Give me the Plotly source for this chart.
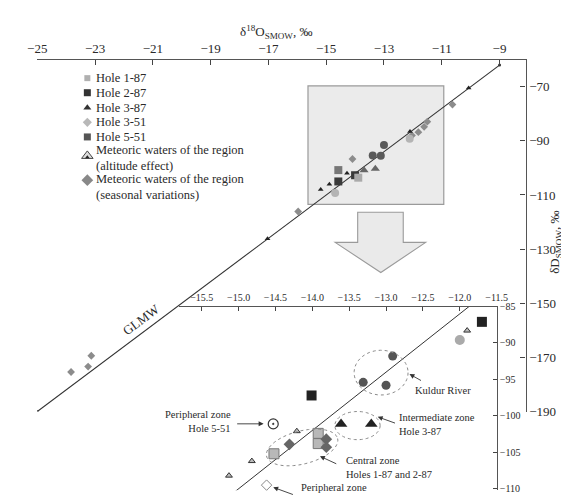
import numpy as np
import plotly.graph_objects as go

W, H = 569, 498
FONT = "Liberation Serif, Times New Roman, serif"
TXT = "#2a2a2a"

# ---------------- main chart data (δ18O, δD) ----------------
glmw_x = [-25.0, -9.0]
glmw_y = [-190.0, -62.0]

seasonal_x = [-23.83, -23.24, -23.13, -15.97, -14.09, -12.03, -11.81, -11.61, -11.50, -10.63]
seasonal_y = [-175.4, -173.4, -169.4, -116.1, -96.7, -88.0, -86.8, -84.8, -82.9, -76.6]

altitude_x = [-14.28, -15.19, -14.89, -12.10, -10.07, -17.03]
altitude_y = [-102.0, -108.0, -106.0, -86.5, -70.5, -126.2]

river_dark_x = [-13.00, -13.39, -13.11]
river_dark_y = [-91.5, -95.4, -95.5]
river_light_x = [-12.11, -14.69]
river_light_y = [-89.2, -109.3]

hole187_x = [-13.89]
hole187_y = [-103.6]
hole287_x = [-14.58, -14.00]
hole287_y = [-105.0, -102.7]
hole387_x = [-13.69, -13.30]
hole387_y = [-100.9, -100.3]
hole551_x = [-14.58]
hole551_y = [-100.8]

main_xticks = [-25, -23, -21, -19, -17, -15, -13, -11, -9]
main_yticks = [-70, -90, -110, -130, -150, -170, -190]

# zoom box shown in the main chart
box_x = [-15.63, -10.93]
box_y = [-113.5, -69.7]

# ---------------- inset data ----------------
in_glmw_x = [-15.15, -11.875]
in_glmw_y = [-111.2, -85.0]

in_river_light_x = [-12.00]
in_river_light_y = [-89.6]
in_river_dark_x = [-12.91, -13.00, -13.31]
in_river_dark_y = [-91.8, -95.8, -95.4]
in_hole287_x = [-11.70, -14.01]
in_hole287_y = [-87.1, -97.2]
in_hole551_x = [-14.53]
in_hole551_y = [-101.1]
in_alt_x = [-11.90, -14.21, -14.82, -15.13]
in_alt_y = [-88.3, -102.1, -106.2, -108.2]
in_hole387_x = [-13.61, -13.20]
in_hole387_y = [-101.1, -101.1]
in_hole187_x = [-13.92, -13.92, -14.52]
in_hole187_y = [-102.4, -103.8, -105.2]
in_seasonal_x = [-14.31, -13.81, -13.81]
in_seasonal_y = [-103.9, -103.2, -104.3]
in_hole351_x = [-14.62]
in_hole351_y = [-109.5]

inset_xticks = [-15.5, -15.0, -14.5, -14.0, -13.5, -13.0, -12.5, -12.0, -11.5]
inset_yticks = [-85, -90, -95, -100, -105, -110]

legend_labels = ["Hole 1-87", "Hole 2-87", "Hole 3-87", "Hole 3-51", "Hole 5-51",
                 "Meteoric waters of the region<br>(altitude effect)",
                 "Meteoric waters of the region<br>(seasonal variations)"]

# ---------------- layout geometry (pixels) ----------------
MX0, MX1, MY0, MY1 = 20, 527, 47, 409          # main plot area
MXR = [-25.0, -8.1]
MYR = [-190.0, -60.0]
IX0, IX1, IY0, IY1 = 167, 497, 301, 490         # inset plot area
IXR = [-15.81, -11.5]
IYR = [-110.2, -85.0]


def ipx2d(px, py):
    x = IXR[0] + (px - IX0) / (IX1 - IX0) * (IXR[1] - IXR[0])
    y = IYR[1] - (py - IY0) / (IY1 - IY0) * (IYR[1] - IYR[0])
    return x, y


def mpx2d(px, py):
    x = MXR[0] + (px - MX0) / (MX1 - MX0) * (MXR[1] - MXR[0])
    y = MYR[1] - (py - MY0) / (MY1 - MY0) * (MYR[1] - MYR[0])
    return x, y


fig = go.Figure()


def sc(x, y, symbol, size, color, line_color=None, line_w=0, xa="x", ya="y"):
    fig.add_trace(go.Scatter(
        x=x, y=y, mode="markers", xaxis=xa, yaxis=ya, showlegend=False,
        hoverinfo="skip", cliponaxis=False,
        marker=dict(symbol=symbol, size=size, color=color,
                    line=dict(color=line_color or color, width=line_w))))


# main chart
fig.add_trace(go.Scatter(x=glmw_x, y=glmw_y, mode="lines+markers", showlegend=False,
                         line=dict(color="#333333", width=1.1),
                         marker=dict(size=3, color="#333333"), hoverinfo="skip"))
sc(seasonal_x, seasonal_y, "diamond", 6, "#8c8c8c")
sc(river_light_x, river_light_y, "circle", 8, "#b4b4b4")
sc(river_dark_x, river_dark_y, "circle", 8, "#5a5a5a")
sc(hole551_x, hole551_y, "square", 8, "#777777")
sc(hole287_x, hole287_y, "square", 8, "#3a3a3a")
sc(hole187_x, hole187_y, "square", 8, "#aaaaaa")
sc(hole387_x, hole387_y, "triangle-up", 8, "#666666")
sc(altitude_x, altitude_y, "triangle-up", 5, "#222222")

# inset
fig.add_trace(go.Scatter(x=in_glmw_x, y=in_glmw_y, mode="lines", showlegend=False,
                         xaxis="x2", yaxis="y2", line=dict(color="#333333", width=1.0),
                         hoverinfo="skip"))
sc(in_river_light_x, in_river_light_y, "circle", 10, "#aaaaaa", xa="x2", ya="y2")
sc(in_river_dark_x, in_river_dark_y, "circle", 9, "#555555", xa="x2", ya="y2")
sc(in_hole287_x, in_hole287_y, "square", 10, "#222222", xa="x2", ya="y2")
sc(in_hole551_x, in_hole551_y, "circle-dot", 10, "#ffffff", "#333333", 1.2, xa="x2", ya="y2")
sc(in_alt_x, in_alt_y, "triangle-up", 6, "#bbbbbb", "#333333", 1, xa="x2", ya="y2")
sc(in_hole387_x, in_hole387_y, "triangle-up", 11, "#222222", xa="x2", ya="y2")
sc(in_hole187_x, in_hole187_y, "square", 10, "#b8b8b8", "#777777", 1, xa="x2", ya="y2")
sc(in_seasonal_x, in_seasonal_y, "diamond", 9, "#666666", xa="x2", ya="y2")
sc(in_hole351_x, in_hole351_y, "diamond", 8, "#ffffff", "#888888", 1, xa="x2", ya="y2")

# legend keys on a hidden pixel axis
leg_sym = ["square", "square", "triangle-up", "diamond", "square", "triangle-up", "diamond"]
leg_col = ["#b0b0b0", "#333333", "#333333", "#b8b8b8", "#555555", "#dddddd", "#888888"]
leg_size = [6, 7, 7, 7, 7, 10, 9]
leg_px = 72
leg_py = [66, 81, 96.5, 111.5, 126.5, 146, 171]
for s, c, z, py in zip(leg_sym, leg_col, leg_size, leg_py):
    sc([leg_px], [py], s, z, c, "#444444" if s == "triangle-up" and z == 10 else None,
       1 if z == 10 and s == "triangle-up" else 0, xa="x3", ya="y3")
sc([leg_px], [147.5], "triangle-up", 4, "#222222", xa="x3", ya="y3")

annotations = []
leg_text_py = [66, 81, 96.5, 111.5, 126.5, 148, 178]
for lab, py in zip(legend_labels, leg_text_py):
    annotations.append(dict(x=79, y=py, xref="x3", yref="y3", text=lab, showarrow=False,
                            xanchor="left", yanchor="middle", align="left",
                            font=dict(family=FONT, size=12.5, color=TXT)))

# axis titles
annotations.append(dict(x=268, y=19, xref="x3", yref="y3",
                        text="δ<sup>18</sup>O<sub>SMOW</sub>, ‰", showarrow=False,
                        font=dict(family=FONT, size=13, color=TXT)))
annotations.append(dict(x=558, y=235, xref="x3", yref="y3", textangle=-90,
                        text="δD<sub>SMOW</sub>, ‰", showarrow=False,
                        font=dict(family=FONT, size=13, color=TXT)))
annotations.append(dict(x=128, y=314, xref="x3", yref="y3", textangle=-36.6,
                        text="GLMW", showarrow=False,
                        font=dict(family=FONT, size=13, color=TXT)))

# inset labels
small = dict(family=FONT, size=10.5, color=TXT)
annotations += [
    dict(x=223, y=419, xref="x3", yref="y3", text="Peripheral zone<br>Hole 5-51",
         showarrow=False, xanchor="right", align="right", font=small),
    dict(x=410, y=387, xref="x3", yref="y3", text="Kuldur River",
         showarrow=False, xanchor="left", font=small),
    dict(x=394, y=422, xref="x3", yref="y3", text="Intermediate zone<br>Hole 3-87",
         showarrow=False, xanchor="left", align="left", font=small),
    dict(x=338, y=467, xref="x3", yref="y3", text="Central zone<br>Holes 1-87 and 2-87",
         showarrow=False, xanchor="left", align="left", font=small),
    dict(x=292, y=494, xref="x3", yref="y3", text="Peripheral zone<br>Hole 3-51",
         showarrow=False, xanchor="left", align="left", font=small),
]
arrows = [((255, 421.7), (226, 421.7)), ((406.5, 370.5), (420, 378)),
          ((373.5, 414.5), (393, 421.5)), ((313.5, 455), (332, 463.5)),
          ((265, 487), (287, 495))]
for (hx, hy), (tx, ty) in arrows:
    annotations.append(dict(x=hx, y=hy, xref="x3", yref="y3", ax=tx, ay=ty,
                            axref="x3", ayref="y3", text="", showarrow=True,
                            arrowhead=2, arrowsize=1.1, arrowwidth=0.9, arrowcolor="#333333"))

# shapes
shapes = [dict(type="rect", xref="x", yref="y", x0=box_x[0], x1=box_x[1],
               y0=box_y[0], y1=box_y[1], fillcolor="#ebebeb",
               line=dict(color="#9a9a9a", width=1.2), layer="below")]
arrow_px = [(352.7, 204), (400, 204), (400, 235), (423.3, 235), (376.7, 266),
            (329.3, 235), (352.7, 235)]
pts = [mpx2d(*p) for p in arrow_px]
path = "M " + " L ".join(f"{x:.4f},{y:.4f}" for x, y in pts) + " Z"
shapes.append(dict(type="path", xref="x", yref="y", path=path, fillcolor="#eaeaea",
                   line=dict(color="#9a9a9a", width=1.1), layer="below"))


def ellipse(cx, cy, rx, ry, ang):
    t = np.linspace(0, 2 * np.pi, 60)
    a = np.deg2rad(ang)
    ex = cx + rx * np.cos(t) * np.cos(a) - ry * np.sin(t) * np.sin(a)
    ey = cy + rx * np.cos(t) * np.sin(a) + ry * np.sin(t) * np.cos(a)
    p = [ipx2d(px, py) for px, py in zip(ex, ey)]
    return "M " + " L ".join(f"{x:.4f},{y:.4f}" for x, y in p) + " Z"


for cx, cy, rx, ry, ang in [(377, 369, 28, 23, 0), (352.5, 423.5, 23.5, 14.5, 0),
                            (295, 446, 38, 17, -14)]:
    shapes.append(dict(type="path", xref="x2", yref="y2", path=ellipse(cx, cy, rx, ry, ang),
                       line=dict(color="#8a8a8a", width=1, dash="dot")))

axis_common = dict(showgrid=False, zeroline=False, showline=True, linecolor="#555555",
                   linewidth=1.2, ticks="inside", tickcolor="#444444", tickwidth=1,
                   fixedrange=True)

fig.update_layout(
    width=W, height=H, margin=dict(l=0, r=0, t=0, b=0),
    paper_bgcolor="white", plot_bgcolor="rgba(0,0,0,0)", showlegend=False,
    xaxis=dict(domain=[MX0 / W, MX1 / W], range=MXR, side="top", anchor="y",
               tickvals=main_xticks, ticklen=5,
               tickfont=dict(family=FONT, size=13, color=TXT), **axis_common),
    yaxis=dict(domain=[1 - MY1 / H, 1 - MY0 / H], range=MYR, side="right", anchor="x",
               tickvals=main_yticks, ticklen=5,
               tickfont=dict(family=FONT, size=13, color=TXT), **axis_common),
    xaxis2=dict(domain=[IX0 / W, IX1 / W], range=IXR, side="top", anchor="y2",
                tickvals=inset_xticks, tickformat=".1f", ticklen=4,
                tickfont=dict(family=FONT, size=10, color=TXT), **axis_common),
    yaxis2=dict(domain=[1 - IY1 / H, 1 - IY0 / H], range=IYR, side="right", anchor="x2",
                tickvals=inset_yticks, ticklen=4,
                tickfont=dict(family=FONT, size=10, color=TXT), **axis_common),
    xaxis3=dict(domain=[0, 1], range=[0, W], visible=False, anchor="y3", fixedrange=True),
    yaxis3=dict(domain=[0, 1], range=[H, 0], visible=False, anchor="x3", fixedrange=True),
    annotations=annotations, shapes=shapes,
)

fig.write_html("out.html", config=dict(displayModeBar=False))
